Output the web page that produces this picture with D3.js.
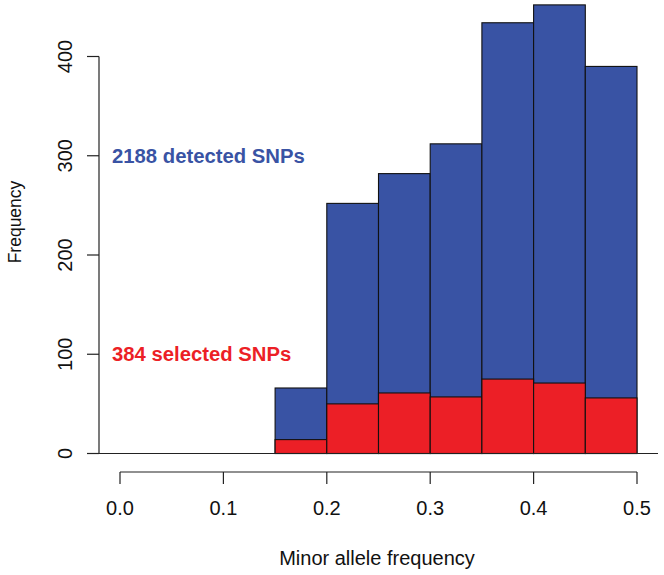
<!DOCTYPE html>
<html>
<head>
<meta charset="utf-8">
<script src="https://cdn.jsdelivr.net/npm/d3@7"></script>
<style>
  html, body { margin: 0; padding: 0; background: #fff; }
  svg { display: block; font-family: "Liberation Sans", Arial, Helvetica, sans-serif; }
</style>
</head>
<body>
<svg id="chart" width="664" height="575"></svg>
<script>
// ---- data ----
const binStarts = [0.15, 0.20, 0.25, 0.30, 0.35, 0.40, 0.45];
const binWidth = 0.05;
const detectedCounts = [66, 252, 282, 312, 434, 452, 390];   // 2188 detected SNPs
const selectedCounts = [14, 50, 61, 57, 75, 71, 56];         // 384 selected SNPs
const xTicks = [0.0, 0.1, 0.2, 0.3, 0.4, 0.5];
const yTicks = [0, 100, 200, 300, 400];
const xTitle = "Minor allele frequency";
const yTitle = "Frequency";
const detectedLabel = "2188 detected SNPs";
const selectedLabel = "384 selected SNPs";

const blue = "#3953a4";
const red = "#ec1f26";

const svg = d3.select("#chart");
const x = d3.scaleLinear().domain([0, 0.5]).range([120, 637]);
const y = d3.scaleLinear().domain([0, 400]).range([453.5, 56.5]);

const bins = binStarts.map((s, i) => ({ x0: s, x1: s + binWidth, det: detectedCounts[i], sel: selectedCounts[i] }));

// detected bars (blue)
svg.append("g").selectAll("rect").data(bins).join("rect")
  .attr("x", d => x(d.x0)).attr("width", d => x(d.x1) - x(d.x0))
  .attr("y", d => y(d.det)).attr("height", d => y(0) - y(d.det))
  .attr("fill", blue).attr("stroke", "#111").attr("stroke-width", 1.1);

// selected bars (red)
svg.append("g").selectAll("rect").data(bins).join("rect")
  .attr("x", d => x(d.x0)).attr("width", d => x(d.x1) - x(d.x0))
  .attr("y", d => y(d.sel)).attr("height", d => y(0) - y(d.sel))
  .attr("fill", red).attr("stroke", "#111").attr("stroke-width", 1.1);

// baseline
svg.append("line")
  .attr("x1", 99).attr("x2", 658).attr("y1", y(0)).attr("y2", y(0))
  .attr("stroke", "#222").attr("stroke-width", 1.2);

// y axis
const yAxisX = 99;
const yg = svg.append("g");
yg.append("line").attr("x1", yAxisX).attr("x2", yAxisX)
  .attr("y1", y(0)).attr("y2", y(400)).attr("stroke", "#222").attr("stroke-width", 1.2);
yg.selectAll("line.tick").data(yTicks).join("line").attr("class", "tick")
  .attr("x1", yAxisX - 12).attr("x2", yAxisX).attr("y1", d => y(d)).attr("y2", d => y(d))
  .attr("stroke", "#222").attr("stroke-width", 1.2);
yg.selectAll("text").data(yTicks).join("text")
  .attr("transform", d => `translate(72,${y(d)}) rotate(-90)`)
  .attr("text-anchor", "middle").attr("font-size", 20).attr("fill", "#111")
  .text(d => d);

// x axis
const xAxisY = 472;
const xg = svg.append("g");
xg.append("line").attr("x1", x(0)).attr("x2", x(0.5))
  .attr("y1", xAxisY).attr("y2", xAxisY).attr("stroke", "#222").attr("stroke-width", 1.2);
xg.selectAll("line.tick").data(xTicks).join("line").attr("class", "tick")
  .attr("x1", d => x(d)).attr("x2", d => x(d)).attr("y1", xAxisY).attr("y2", xAxisY + 12)
  .attr("stroke", "#222").attr("stroke-width", 1.2);
xg.selectAll("text").data(xTicks).join("text")
  .attr("x", d => x(d)).attr("y", 515)
  .attr("text-anchor", "middle").attr("font-size", 20).attr("fill", "#111")
  .text(d => d3.format(".1f")(d));

// titles
svg.append("text").attr("x", 377).attr("y", 565).attr("text-anchor", "middle")
  .attr("font-size", 20).attr("fill", "#111").text(xTitle);
svg.append("text").attr("transform", "translate(21,222) rotate(-90)").attr("text-anchor", "middle")
  .attr("font-size", 17.5).attr("fill", "#111").text(yTitle);

// annotations
svg.append("text").attr("x", 112).attr("y", y(300) + 7)
  .attr("font-size", 20.3).attr("font-weight", "bold").attr("fill", blue).text(detectedLabel);
svg.append("text").attr("x", 112).attr("y", y(100) + 7)
  .attr("font-size", 20.3).attr("font-weight", "bold").attr("fill", red).text(selectedLabel);
</script>
</body>
</html>
